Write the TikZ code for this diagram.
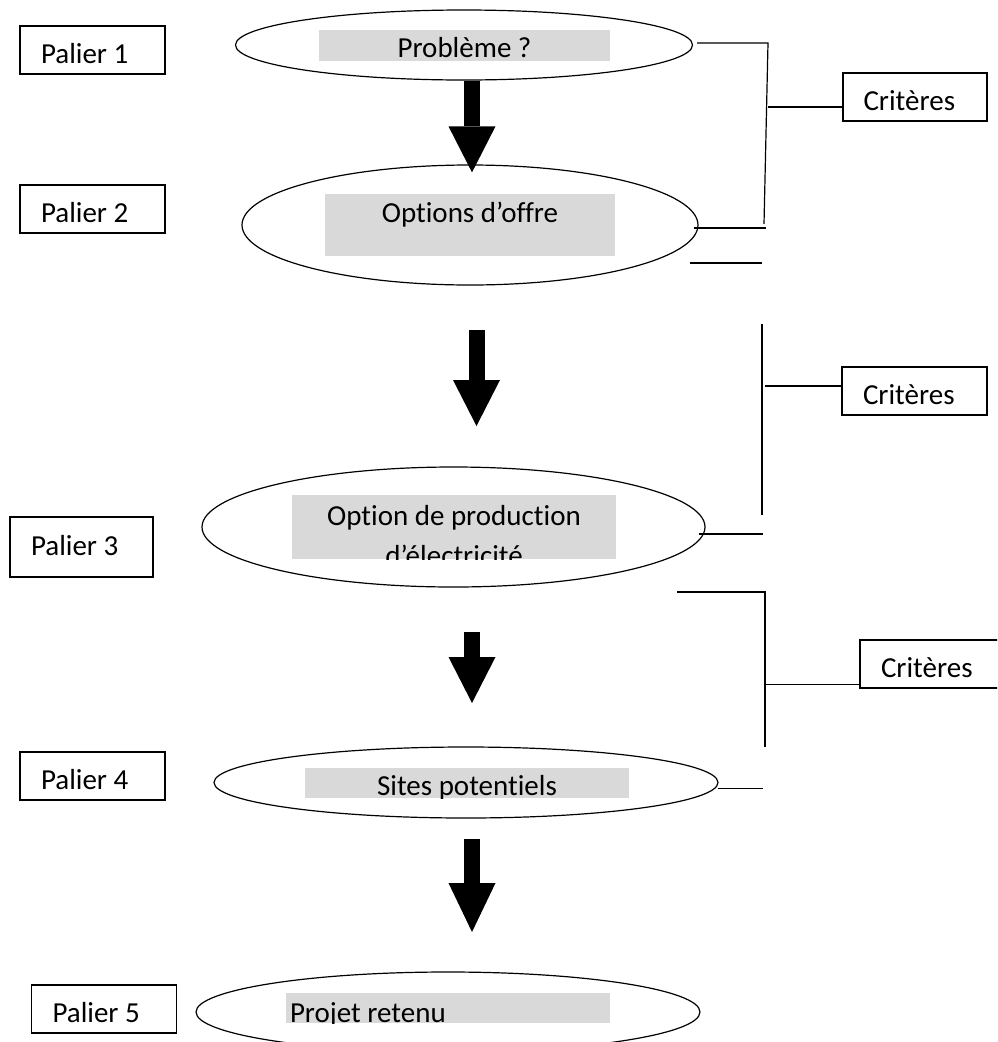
\documentclass[tikz,border=0pt]{standalone}
\usepackage{fontspec}
\setmainfont{Carlito}[Ligatures=NoCommon]
\usetikzlibrary{arrows.meta,shapes.geometric}

\begin{document}
\begin{tikzpicture}[x=1pt, y=-1pt,
    stepbox/.style={rectangle, draw, line width=1.2pt, minimum width=145pt, minimum height=48pt, inner sep=0pt, text width=103pt, align=flush left, text height=37pt, text depth=11pt},
    phase/.style={ellipse, draw, line width=1.2pt, inner sep=0pt},
    shade/.style={rectangle, fill=black!15, inner sep=0pt},
    bigarrow/.style={line width=16pt, -{Triangle[length=46pt, width=47pt, line width=0pt]}},
    link/.style={line width=1.2pt},
    every node/.append style={font=\fontsize{29}{40}\selectfont}
]
    \useasboundingbox (0,0) rectangle (997,1042);
    \clip (0,0) rectangle (997,1042);

    % === Paliers (left column) ===
    \node[stepbox] (pal1) at (92.5,50) {Palier 1};
    \node[stepbox] (pal2) at (92.5,209) {Palier 2};
    \node[stepbox, minimum width=143pt, text width=101pt, minimum height=60pt, text height=38pt, text depth=22pt] (pal3) at (81.5,547) {Palier 3};
    \node[stepbox] (pal4) at (92.5,776) {Palier 4};
    \node[stepbox] (pal5) at (104,1009) {Palier 5};

    % === Ellipses (centre column) ===
    \node[phase, minimum width=457pt, minimum height=70pt] (pb) at (464,45) {};
    \node[phase, minimum width=456pt, minimum height=120pt] (opt) at (470,225) {};
    \node[phase, minimum width=503pt, minimum height=120pt] (prod) at (453.5,527) {};
    \node[phase, minimum width=504pt, minimum height=71pt] (sites) at (466,782.5) {};
    \node[phase, minimum width=504pt, minimum height=80pt] (proj) at (448,1012) {};

    % grey text boxes
    \node[shade, minimum width=291pt, minimum height=31pt, text height=27pt, text depth=4pt] (pbtxt) at (464.5,45.5) {Problème ?};
    \node[shade, minimum width=290pt, minimum height=62pt, text height=28pt, text depth=34pt] (opttxt) at (470,225) {Options d’offre};
    \begin{scope}
        \clip (292,495) rectangle (616,559);
        \node[shade, minimum width=324pt, minimum height=64pt] (prodbox) at (454,527) {};
        \node[anchor=north, align=center, inner sep=0pt] (prodtxt) at (454,505) {Option de production\\d’électricité};
    \end{scope}
    \begin{scope}
        \clip (305,768) rectangle (629,798);
        \node[shade, minimum width=324pt, minimum height=30pt, text height=27pt, text depth=3pt] (sitestxt) at (467,783) {Sites potentiels};
    \end{scope}
    \begin{scope}
        \clip (286,993) rectangle (610,1023);
        \node[shade, minimum width=324pt, minimum height=30pt, text width=316pt, align=flush left, text height=29pt, text depth=1pt] (projtxt) at (448,1008) {Projet retenu};
    \end{scope}

    % === Block arrows ===
    \coordinate (a2s) at (476.5,330);
    \coordinate (a2e) at (476.5,426);
    \coordinate (a3s) at (472,632);
    \coordinate (a3e) at (472,703);
    \coordinate (a4s) at (472,839);
    \coordinate (a4e) at (472,932);
    \draw[bigarrow] ([xshift=8pt]pb.south) -- ([xshift=2pt,yshift=-8pt]opt.north);
    \draw[bigarrow] (a2s) -- (a2e);
    \draw[bigarrow] (a3s) -- (a3e);
    \draw[bigarrow, -{Triangle[length=49pt, width=47pt, line width=0pt]}] (a4s) -- (a4e);

    % === Critères (right column) ===
    \node[stepbox, minimum width=144pt] (crit1) at (915,97) {Critères};
    \node[stepbox] (crit2) at (914.5,391) {Critères};
    \node[stepbox] (crit3) at (932.5,664) {Critères};

    % bracket 1
    \coordinate (k1a) at (768,43);
    \coordinate (k1b) at (764,224);
    \draw[link] ([xshift=4pt,yshift=2pt]pb.east) -- (k1a) -- (k1b);
    \draw[link] ([yshift=-10pt]crit1.west) -- ++(-74,0);
    \draw[link] ([xshift=-5pt,yshift=-3pt]opt.east) -- ++(72,0);
    \coordinate (k1c) at (690,263);
    \draw[link] (k1c) -- ++(72,0);

    % bracket 2
    \coordinate (k2a) at (762,324);
    \coordinate (k2b) at (762,515);
    \draw[link] (k2a) -- (k2b);
    \draw[link] ([yshift=5pt]crit2.west) -- ++(-76,0);
    \draw[link] ([xshift=-7pt,yshift=-7pt]prod.east) -- ++(64,0);

    % bracket 3
    \coordinate (k3a) at (677,592);
    \coordinate (k3b) at (765,592);
    \coordinate (k3c) at (765,747);
    \draw[link] (k3a) -- (k3b) -- (k3c);
    \draw[link] ([yshift=4pt]crit3.south west) -- ++(-95,0);
    \draw[link] ([xshift=-1pt,yshift=-6pt]sites.east) -- ++(45,0);
\end{tikzpicture}
\end{document}
